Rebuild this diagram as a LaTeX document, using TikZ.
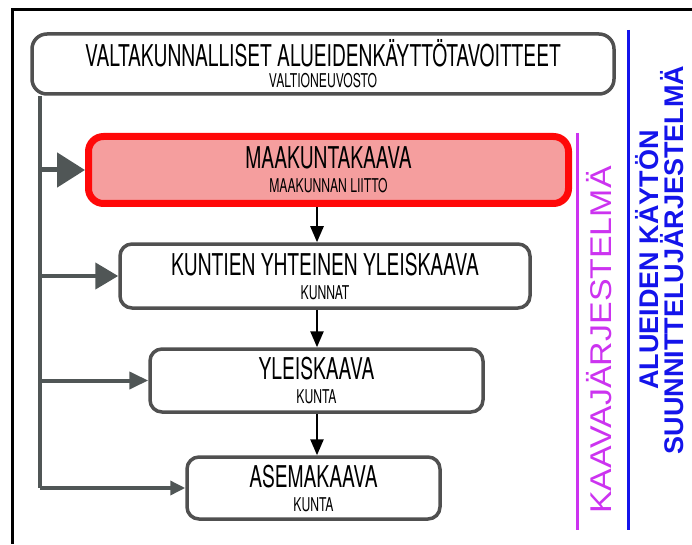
\documentclass[tikz,border=0pt]{standalone}
\usepackage{fontspec}
\usetikzlibrary{arrows.meta}
\newfontfamily\kaavafont[FakeStretch=0.64]{TeX Gyre Heros}
\newfontfamily\jarjfont[FakeStretch=1.13]{Liberation Sans}
\newfontfamily\suunnfont{Liberation Sans}
\definecolor{boxgray}{RGB}{80,80,80}
\definecolor{railgray}{RGB}{80,86,86}
\definecolor{maared}{RGB}{255,8,8}
\definecolor{maafill}{RGB}{245,158,158}
\definecolor{kaavapurple}{RGB}{204,51,240}
\definecolor{suunnblue}{RGB}{20,20,235}
\newcommand{\isoteksti}{\fontsize{30}{24}\selectfont}
\newcommand{\pieniteksti}{\fontsize{19}{24}\selectfont}
\begin{document}
\begin{tikzpicture}[x=1pt,y=1pt,
		kaavabox/.style={draw=boxgray,line width=3.5pt,rounded corners=12pt,fill=white,align=center,
			font=\kaavafont\pieniteksti,inner sep=0pt},
		feed/.style={draw=railgray,line width=#1},
		down/.style={-{Triangle[length=16pt,width=13pt]},line width=2.5pt,black}]
	\useasboundingbox (0,0) rectangle (692,544);
	\draw[line width=3pt] (692,534) -| (12,0);
	\node[kaavabox,minimum width=582pt,minimum height=60pt,rounded corners=15pt] (valtakunta) at (323,480)
		{{\isoteksti VALTAKUNNALLISET ALUEIDENKÄYTTÖTAVOITTEET}\\[-3pt]VALTIONEUVOSTO};
	\node[kaavabox,draw=maared,fill=maafill,line width=7pt,minimum width=480pt,minimum height=67pt,rounded corners=15pt] (maakunta) at (328.5,374)
		{{\isoteksti MAAKUNTAKAAVA}\\MAAKUNNAN LIITTO};
	\node[kaavabox,minimum width=410pt,minimum height=64pt] (kuntien) at (325,268)
		{{\isoteksti KUNTIEN YHTEINEN YLEISKAAVA}\\KUNNAT};
	\node[kaavabox,minimum width=333pt,minimum height=63pt] (yleis) at (316.5,163.5)
		{{\isoteksti YLEISKAAVA}\\KUNTA};
	\node[kaavabox,minimum width=253pt,minimum height=62pt] (asema) at (313.5,56)
		{{\isoteksti ASEMAKAAVA}\\KUNTA};
	\coordinate (rail) at (40,0);
	\coordinate (virta) at (317,0);
	\draw[feed=4pt] (valtakunta.south -| rail) -- (asema.west -| rail);
	\draw[feed=5pt,-{Triangle[length=28pt,width=34pt]},railgray] (maakunta.west -| rail) -- (maakunta.west);
	\draw[feed=4.5pt,-{Triangle[length=23pt,width=26pt]},railgray] (kuntien.west -| rail) -- (kuntien.west);
	\draw[feed=4pt,-{Triangle[length=19pt,width=17pt]},railgray] (yleis.west -| rail) -- (yleis.west);
	\draw[feed=3.5pt,-{Triangle[length=15pt,width=14pt]},railgray] (asema.west -| rail) -- (asema.west);
	\draw[down] (maakunta.south -| virta) -- (kuntien.north -| virta);
	\draw[down] (kuntien.south -| virta) -- (yleis.north -| virta);
	\draw[down] (yleis.south -| virta) -- (asema.north -| virta);
	\coordinate (kaavaylä) at (577,411);
	\coordinate (kaavaala) at (577,14);
	\coordinate (suunnylä) at (628,514);
	\coordinate (suunnala) at (628,14);
	\draw[kaavapurple,line width=3pt] (kaavaylä) -- (kaavaala);
	\draw[suunnblue,line width=3pt] (suunnylä) -- (suunnala);
	\node[rotate=90,text=kaavapurple,font=\jarjfont\fontsize{30}{30}\selectfont,inner sep=0pt] (kaavajarj) at (599,204) {KAAVAJÄRJESTELMÄ};
	\node[rotate=90,text=suunnblue,font=\suunnfont\bfseries\fontsize{27}{25}\selectfont,align=center,inner sep=0pt] (suunnjarj) at (660,284)
		{ALUEIDEN KÄYTÖN\\SUUNNITTELUJÄRJESTELMÄ};
\end{tikzpicture}
\end{document}
